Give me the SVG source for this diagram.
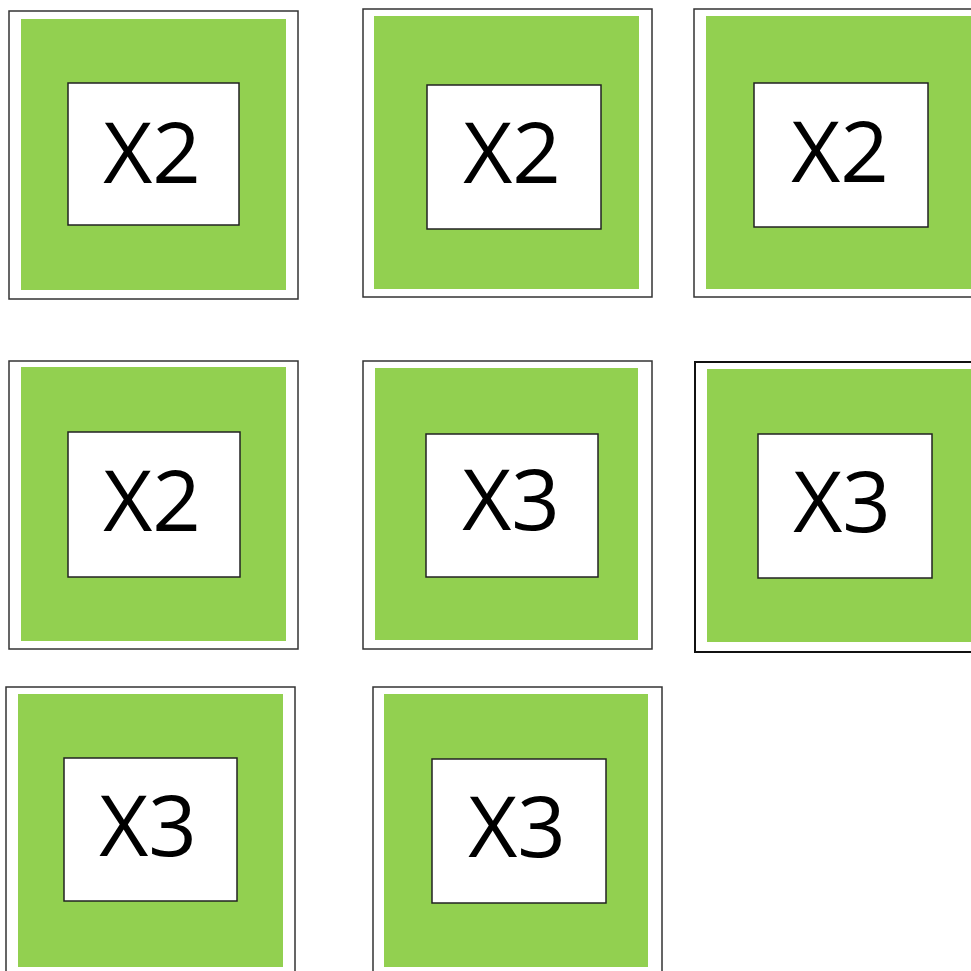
<svg xmlns="http://www.w3.org/2000/svg" width="971" height="971" viewBox="0 0 971 971">
<style>
.frame{fill:#fff;stroke:#333;stroke-width:1.5}
.green{fill:#92d050}
.inner{fill:#fff;stroke:#222;stroke-width:1.5}
.lbl{font-family:"Open Sans","Noto Sans",sans-serif;font-size:85px;fill:#000;text-anchor:middle}
</style>
<rect width="971" height="971" fill="#fff"/>
<g id="tile1">
<rect class="frame" x="9" y="11" width="289" height="288"/>
<rect class="green" x="21" y="19" width="265" height="271"/>
<rect class="inner" x="68" y="83" width="171" height="142"/>
<text class="lbl" x="152" y="183">X2</text>
</g>
<g id="tile2">
<rect class="frame" x="363" y="9" width="289" height="288"/>
<rect class="green" x="374" y="16" width="265" height="273"/>
<rect class="inner" x="427" y="85" width="174" height="144"/>
<text class="lbl" x="512" y="183">X2</text>
</g>
<g id="tile3">
<rect class="frame" x="694" y="9" width="290" height="288"/>
<rect class="green" x="706" y="16" width="265" height="273"/>
<rect class="inner" x="754" y="83" width="174" height="144"/>
<text class="lbl" x="840" y="182">X2</text>
</g>
<g id="tile4">
<rect class="frame" x="9" y="361" width="289" height="288"/>
<rect class="green" x="21" y="367" width="265" height="274"/>
<rect class="inner" x="68" y="432" width="172" height="145"/>
<text class="lbl" x="152" y="531">X2</text>
</g>
<g id="tile5">
<rect class="frame" x="363" y="361" width="289" height="288"/>
<rect class="green" x="375" y="368" width="263" height="272"/>
<rect class="inner" x="426" y="434" width="172" height="143"/>
<text class="lbl" x="511" y="530">X3</text>
</g>
<g id="tile6">
<rect class="frame" x="695" y="362" width="290" height="290" style="stroke:#111;stroke-width:2"/>
<rect class="green" x="707" y="369" width="264" height="273"/>
<rect class="inner" x="758" y="434" width="174" height="144"/>
<text class="lbl" x="842" y="532">X3</text>
</g>
<g id="tile7">
<rect class="frame" x="6" y="687" width="289" height="300"/>
<rect class="green" x="18" y="694" width="265" height="273"/>
<rect class="inner" x="64" y="758" width="173" height="143"/>
<text class="lbl" x="148" y="856">X3</text>
</g>
<g id="tile8">
<rect class="frame" x="373" y="687" width="289" height="300"/>
<rect class="green" x="384" y="694" width="264" height="273"/>
<rect class="inner" x="432" y="759" width="174" height="144"/>
<text class="lbl" x="517" y="857">X3</text>
</g>
</svg>
